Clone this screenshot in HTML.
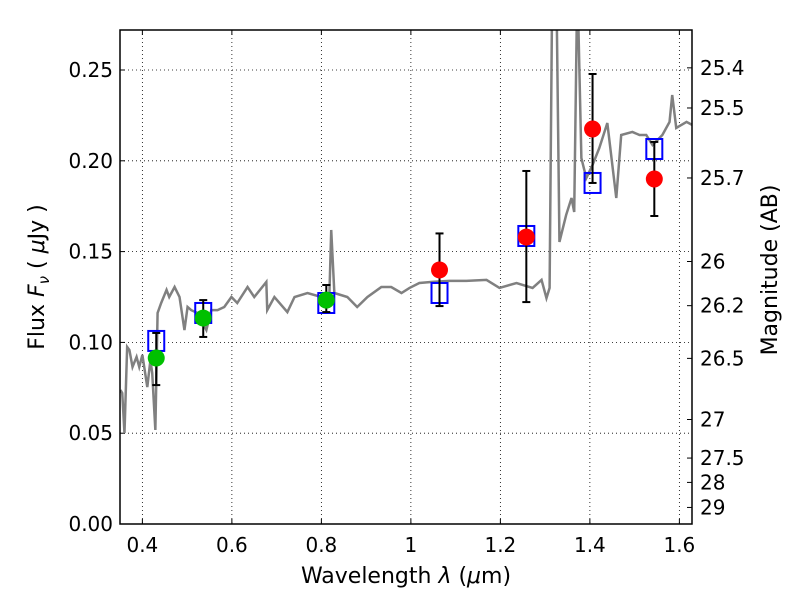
<!DOCTYPE html>
<html><head><meta charset="utf-8"><style>
body{margin:0;background:#fff}
svg text{font-family:"DejaVu Sans","Liberation Sans",sans-serif;fill:#000}
</style></head><body>
<svg id="chart" width="800" height="600" xmlns="http://www.w3.org/2000/svg"></svg>
<script>
const specWl=[0.351,0.355,0.360,0.366,0.371,0.378,0.387,0.393,0.400,0.411,0.418,0.422,0.429,0.434,0.442,0.454,0.460,0.472,0.483,0.494,0.501,0.509,0.523,0.543,0.554,0.568,0.583,0.599,0.612,0.635,0.650,0.677,0.679,0.695,0.724,0.740,0.769,0.800,0.818,0.822,0.829,0.858,0.880,0.903,0.934,0.956,0.979,0.997,1.019,1.048,1.086,1.124,1.169,1.198,1.236,1.272,1.292,1.303,1.310,1.316,1.325,1.332,1.347,1.359,1.365,1.372,1.381,1.392,1.406,1.421,1.439,1.459,1.470,1.495,1.511,1.526,1.540,1.562,1.578,1.584,1.593,1.616,1.629];
const specF=[0.0738,0.0721,0.0501,0.0975,0.0958,0.0865,0.092,0.0865,0.0931,0.0754,0.0903,0.0831,0.0518,0.1162,0.1217,0.1289,0.125,0.1305,0.125,0.1068,0.1195,0.1178,0.1162,0.1068,0.1178,0.1178,0.1195,0.125,0.1217,0.1305,0.125,0.1333,0.1178,0.125,0.1167,0.125,0.1272,0.125,0.1272,0.1619,0.1272,0.125,0.1195,0.125,0.1305,0.1305,0.1272,0.1300,0.1327,0.1333,0.1339,0.1339,0.1344,0.13,0.1327,0.13,0.1344,0.1244,0.1300,0.30,0.30,0.1553,0.1702,0.1795,0.1718,0.30,0.2015,0.1905,0.1977,0.207,0.2208,0.1795,0.2142,0.2159,0.2142,0.2142,0.2087,0.2142,0.2214,0.2362,0.2181,0.2214,0.2197];
const ptWl=[0.431,0.536,0.811,1.064,1.258,1.406,1.544];
const obsF=[0.0914,0.1134,0.1233,0.1399,0.158,0.2175,0.190];
const errLo=[0.0765,0.103,0.1167,0.120,0.1222,0.1878,0.1696];
const errHi=[0.1052,0.1233,0.1316,0.160,0.1944,0.2478,0.2104];
const modelF=[0.1008,0.1162,0.1217,0.1272,0.1586,0.1878,0.2065];
const isOptical=[1,1,1,0,0,0,0];
const xTicks=[0.4,0.6,0.8,1.0,1.2,1.4,1.6];
const xTickLabels=["0.4","0.6","0.8","1","1.2","1.4","1.6"];
const yTicks=[0,0.05,0.10,0.15,0.20,0.25];
const yTickLabels=["0.00","0.05","0.10","0.15","0.20","0.25"];
const magTicks=[25.4,25.5,25.7,26,26.2,26.5,27,27.5,28,29];
const magTickLabels=["25.4","25.5","25.7","26","26.2","26.5","27","27.5","28","29"];

const L=120,R=692,T=30,B=524;
const xMin=0.35,xMax=0.35+(R-L)/447.5,yMin=0,yMax=(B-T)/1816;
const sx=v=>L+(v-xMin)/(xMax-xMin)*(R-L);
const sy=v=>B-(v-yMin)/(yMax-yMin)*(B-T);
const NS="http://www.w3.org/2000/svg";
const svg=document.getElementById('chart');
function mk(tag,attrs,parent){const e=document.createElementNS(NS,tag);for(const k in attrs)e.setAttribute(k,attrs[k]);(parent||svg).appendChild(e);return e;}
const defs=mk('defs',{});
const cp=mk('clipPath',{id:'clip'},defs);mk('rect',{x:L,y:T,width:R-L,height:B-T},cp);

xTicks.forEach((v,i)=>{
  const g=mk('line',{x1:sx(v),x2:sx(v),y1:T,y2:B,stroke:'#000','stroke-width':0.8,'stroke-dasharray':'1,3'});
  
  
  const t=mk('line',{x1:sx(v),x2:sx(v),y1:B,y2:B-5,stroke:'#000'});
  
  
  const t2=mk('line',{x1:sx(v),x2:sx(v),y1:T,y2:T+5,stroke:'#000'});
  
  
  const lb=mk('text',{x:sx(v),y:B+28,'font-size':20,'text-anchor':'middle'});lb.textContent=xTickLabels[i];
  
  
});
yTicks.forEach((v,i)=>{
  const g=mk('line',{x1:L,x2:R,y1:sy(v),y2:sy(v),stroke:'#000','stroke-width':0.8,'stroke-dasharray':'1,3'});
  
  
  const t=mk('line',{x1:L,x2:L+5,y1:sy(v),y2:sy(v),stroke:'#000'});
  
  
  const lb=mk('text',{x:L-7,y:sy(v)+7,'font-size':20,'text-anchor':'end'});lb.textContent=yTickLabels[i];
  
  
});
magTicks.forEach((m,i)=>{
  const f=Math.pow(10,(23.9-m)/2.5);
  const t=mk('line',{x1:R,x2:R-5,y1:sy(f),y2:sy(f),stroke:'#000'});
  
  
  const lb=mk('text',{x:R+8,y:sy(f)+7,'font-size':20});lb.textContent=magTickLabels[i];
  
  
});

const sp=mk('polyline',{points:specWl.map((w,i)=>sx(w)+','+sy(specF[i])).join(' '),fill:'none',stroke:'#808080','stroke-width':2.5,'clip-path':'url(#clip)'});



ptWl.forEach((w,i)=>{
  const r=mk('rect',{x:sx(w)-8,y:sy(modelF[i])-10,width:16,height:20,fill:'none',stroke:'#0000ff','stroke-width':2});
  
  
});
ptWl.forEach((w,i)=>{
  const g=mk('g',{stroke:'#000','stroke-width':2});
  
  
  mk('line',{x1:sx(w),x2:sx(w),y1:sy(errLo[i]),y2:sy(errHi[i])},g);
  mk('line',{x1:sx(w)-4,x2:sx(w)+4,y1:sy(errLo[i]),y2:sy(errLo[i])},g);
  mk('line',{x1:sx(w)-4,x2:sx(w)+4,y1:sy(errHi[i]),y2:sy(errHi[i])},g);
});
ptWl.forEach((w,i)=>{
  const c=mk('circle',{cx:sx(w),cy:sy(obsF[i]),r:8.5,fill:isOptical[i]?'#00c000':'#ff0000'});
  
  
});

const fr=mk('rect',{x:L,y:T,width:R-L,height:B-T,fill:'none',stroke:'#000','stroke-width':1.5});



const xl=mk('text',{x:406,y:583,'font-size':22,'text-anchor':'middle'});
xl.innerHTML='Wavelength  <tspan font-style="italic">λ</tspan> (<tspan font-style="italic">μ</tspan>m)';


const yl=mk('text',{x:0,y:0,'font-size':22,'text-anchor':'middle',transform:'translate(44,277) rotate(-90)'});
yl.innerHTML='Flux  <tspan font-style="italic">F</tspan><tspan font-style="italic" font-size="15" dy="5">ν</tspan><tspan dy="-5">  ( </tspan><tspan font-style="italic">μ</tspan>Jy )';


const ml=mk('text',{x:0,y:0,'font-size':22,'text-anchor':'middle',transform:'translate(777,270) rotate(-90)'});
ml.textContent='Magnitude (AB)';


</script>
</body></html>
